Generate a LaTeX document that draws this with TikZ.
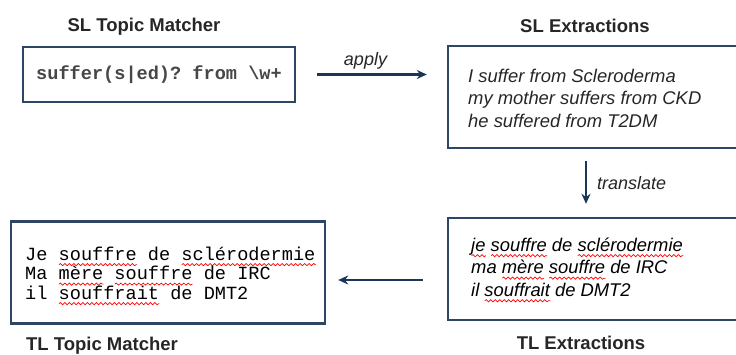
\documentclass[tikz,border=0pt]{standalone}
\usepackage{fontspec}
\setmainfont{Liberation Sans}
\setmonofont{Liberation Mono}
\usepackage{xcolor}
\usetikzlibrary{arrows.meta,positioning,decorations.pathmorphing}
\definecolor{boxblue}{HTML}{2F4566}
\definecolor{arrowblue}{HTML}{1B3658}
\definecolor{inkgray}{HTML}{262626}
% red squiggle of the spell checker
\newlength{\spellwd}
\newcommand{\spell}[1]{\settowidth{\spellwd}{#1}%
  \rlap{\smash{\tikz[baseline=0pt]\draw[red, line width=0.7pt, decorate,
    decoration={snake, amplitude=1.1pt, segment length=4.5pt}]
    (0pt,-4.5pt) -- (\spellwd,-4.5pt);}}#1}

\begin{document}
\begin{tikzpicture}[
  x=1pt, y=1pt,
  box/.style={draw=boxblue, line width=2.4pt, minimum width=298pt,
    minimum height=102pt, inner sep=0pt},
  title/.style={font=\fontsize{18.5}{21}\selectfont\bfseries, text=inkgray},
  sltext/.style={font=\fontsize{18.4}{22.5}\selectfont\itshape, text=inkgray,
    align=left, anchor=west, inner sep=0pt},
  mono/.style={font=\fontsize{18.6}{19.5}\selectfont\ttfamily, align=left,
    anchor=west, inner sep=0pt},
  flow/.style={draw=arrowblue, line width=2.2pt, -{Stealth[length=10pt,width=9pt]}},
  verb/.style={font=\fontsize{18}{21}\selectfont\itshape, text=inkgray, inner sep=0pt},
]
\useasboundingbox (0,0) rectangle (736,354);

% --- Source language ---
\node[title] (slmtitle) at (144,327) {SL Topic Matcher};
\node[box, minimum width=272pt, minimum height=55pt,
  font=\fontsize{18.6}{20}\selectfont\ttfamily\bfseries, text=inkgray!85]
  (slm) at (159,279.5) {suffer(s|ed)? from \textbackslash w+};

\node[title] (sletitle) at (585,328) {SL Extractions};
\node[box] (sle) at (597,257) {};
\node[sltext] (sletext) at (468,256)
  {I suffer from Scleroderma\\my mother suffers from CKD\\he suffered from T2DM};

% --- Target language ---
\node[box] (tle) at (597,85) {};
\node[sltext, text=black] (tletext) at (471,87)
  {\spell{je} \spell{souffre} de \spell{sclérodermie}\\ma \spell{mère} \spell{souffre} de IRC\\il \spell{souffrait} de DMT2};
\node[title] (tletitle) at (581,11) {TL Extractions};

\node[box, minimum width=314pt] (tlm) at (168,81.5) {};
\node[mono] (tlmtext) at (25,81)
  {Je \spell{souffre} de \spell{sclérodermie}\\Ma \spell{mère} \spell{souffre} de IRC\\il \spell{souffrait} de DMT2};
\node[title] (tlmtitle) at (102,8) {TL Topic Matcher};

% Arrows
\draw[flow, shorten <=21pt, shorten >=20pt] (slm.east) -- (slm.east -| sle.west)
  node[verb, midway, above=4pt, xshift=-6pt] (apply) {apply};
\draw[flow, shorten <=12pt, shorten >=13pt] ([xshift=-11pt]sle.south) -- ([xshift=-11pt]tle.north)
  node[verb, midway, right=10pt] (translate) {translate};
\draw[flow, shorten <=24pt, shorten >=12pt] ([yshift=-11pt]tle.west) -- ([yshift=-11pt]tle.west -| tlm.east);
\end{tikzpicture}
\end{document}
